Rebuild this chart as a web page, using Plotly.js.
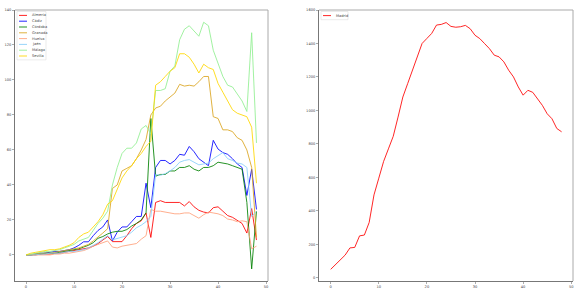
<!DOCTYPE html>
<html>
<head>
<meta charset="utf-8">
<script src="https://cdn.plot.ly/plotly-3.0.1.min.js"></script>
<style>html,body{margin:0;padding:0;background:#fff;}#chart{width:581px;height:293px;}</style>
</head>
<body>
<div id="chart"></div>
<script>
// Day index (x)
const days = Array.from({length: 49}, (_, i) => i);

const provinces = ["Almería", "Cádiz", "Córdoba", "Granada", "Huelva", "Jaén", "Málaga", "Sevilla"];
const colors = ["red", "blue", "green", "goldenrod", "lightsalmon", "lightskyblue", "lightgreen", "gold"];

const almeria = [0,0,0,0.5,0.5,0.5,1,1,1.5,2,2.5,3,3.5,4,5,6.5,8.5,10.5,7.6,7.6,7.6,11,15,18,19.5,24,10,30,31,30,30,30,30,28,30.5,27.5,25.5,24.5,24,27,27.5,25,22.5,21.5,19.5,18,12.5,26.5,8.5];
const cadiz = [0,0,0.5,1,1,1.5,2,2,2.3,3,4,5.5,7.5,7.5,11,14,16,20,8,13,16,16,19,22,22,41,27,50,54,54,52,54,57.5,57,62,59,55,53,51,65.5,60.5,58.5,57.5,55,52,50,34,49,26];
const cordoba = [0,0,0.5,0.5,1,1,1,1.5,2,2.5,3,3.5,4.5,5.5,7,9.5,10.5,12,13,13.5,13.5,14.5,16.5,18,20,24,78,45,46,46,48,48,50,50,51,49,48,50,50,51,53,52.5,52,51,50,49,30,-8,25];
const granada = [0,0,0.5,1,1,1,1.5,2,2.5,3,3.5,4,5,6,8,10,12.5,15,38,40,48,49.5,51,55,60,66,80,84,85,88,90.5,92.5,97.5,96.5,97,96.5,99,102,102,79,78,71.5,71.5,70.5,67,65.5,60,50,10];
const huelva = [0,0,0,0,0,0,0.5,0.5,1,1,1.5,2,2.5,3.5,5,6,7,8,4.5,4,5,5.5,6,6.5,9,11,26,25,25,24.5,24,23.5,23.5,24,24,22.5,21,23,24.5,24,23.5,22.5,20.5,20,19,19.5,19,3.5,5];
const jaen = [0,0,0,0.5,0.5,1,1,1,1.5,2,2,2.5,3,4,5.5,7,9,11,8.6,9.5,10.5,11,13,15.5,17,19,22,46,45.5,46.5,48,50,53,54,54.5,53,51.5,52,52.5,55,57,58.5,55,54,52.5,52,50,22,25];
const malaga = [0,0.5,1,1.5,2,2,2.5,3,4,5,6,8,9,10,14,18,21,25,40,50,58,61,61,64,72,74,69,94,94,95,105,108,123,129,131,128,125,133,131,117,110,102,97,96,92,88,82,127,64];
const sevilla = [0,1,1.5,2,2.5,3,3,3.5,4.5,5.5,7,10,12,13,16,19,23,29,31,38,44,48,51,55,58,62,65,97,99,102,105,107,115,115,113,109,104,109,107,106,98,93,88,83,81,80,79,73,41];

const madrid = [50,78,108,135,178,181,250,255,330,495,595,695,770,845,960,1080,1160,1240,1330,1400,1430,1460,1510,1514,1525,1502,1497,1500,1508,1488,1449,1429,1399,1369,1330,1320,1290,1240,1200,1140,1091,1120,1108,1070,1030,980,950,892,872];

const seriesLeft = [almeria, cadiz, cordoba, granada, huelva, jaen, malaga, sevilla];

const traces = seriesLeft.map((ys, k) => ({
  x: days, y: ys, type: 'scatter', mode: 'lines', name: provinces[k],
  line: {color: colors[k], width: 1}, opacity: 0.85,
  xaxis: 'x', yaxis: 'y', showlegend: false
}));
traces.push({
  x: days, y: madrid, type: 'scatter', mode: 'lines', name: 'Madrid',
  line: {color: 'red', width: 1}, opacity: 0.85,
  xaxis: 'x2', yaxis: 'y2', showlegend: false
});

const W = 581, H = 293;
const px = v => v / W, py = v => 1 - v / H;

const tickFont = {family: 'DejaVu Sans', size: 3.6, color: '#444'};
const axCommon = {
  showgrid: false, zeroline: false, showline: true, linecolor: '#777', linewidth: 1,
  ticks: 'outside', ticklen: 2, tickwidth: 0.6, tickcolor: '#777', tickfont: tickFont
};

const shapes = [];
const annotations = [];
// top/right spines
[[15, 268], [319, 573]].forEach(([l, r]) => {
  shapes.push({type: 'line', xref: 'paper', yref: 'paper', x0: px(l), x1: px(r), y0: py(10), y1: py(10), line: {color: '#aaa', width: 1}});
  shapes.push({type: 'line', xref: 'paper', yref: 'paper', x0: px(r), x1: px(r), y0: py(10), y1: py(281), line: {color: '#aaa', width: 1}});
});

// manual legends
function legend(names, cols, left, top, width, rowH) {
  shapes.push({type: 'rect', xref: 'paper', yref: 'paper', x0: px(left), x1: px(left + width),
    y0: py(top), y1: py(top + 2 + rowH * names.length), line: {color: '#ddd', width: 0.6}, fillcolor: 'rgba(255,255,255,0.8)'});
  names.forEach((n, k) => {
    const yc = top + 1 + rowH * (k + 0.5);
    shapes.push({type: 'line', xref: 'paper', yref: 'paper', x0: px(left + 2), x1: px(left + 10), y0: py(yc), y1: py(yc),
      line: {color: cols[k], width: 1}, opacity: 0.85});
    annotations.push({xref: 'paper', yref: 'paper', x: px(left + 12.5), y: py(yc), xanchor: 'left', yanchor: 'middle',
      text: n, showarrow: false, font: {family: 'DejaVu Sans', size: 3.6, color: '#444'}});
  });
}
legend(provinces, colors, 17, 11.5, 29, 5.8);
legend(['Madrid'], ['red'], 321, 11.5, 27, 6.2);

const layout = {
  width: W, height: H, margin: {l: 0, r: 0, t: 0, b: 0},
  paper_bgcolor: '#fff', plot_bgcolor: '#fff', showlegend: false,
  xaxis: Object.assign({}, axCommon, {domain: [px(15), px(268)], range: [-2.29, 50.4], tickvals: [0,10,20,30,40,50], anchor: 'y'}),
  yaxis: Object.assign({}, axCommon, {domain: [py(281), py(10)], range: [-14.9, 140], tickvals: [0,20,40,60,80,100,120,140], anchor: 'x'}),
  xaxis2: Object.assign({}, axCommon, {domain: [px(319), px(573)], range: [-2.43, 50.37], tickvals: [0,10,20,30,40,50], anchor: 'y2'}),
  yaxis2: Object.assign({}, axCommon, {domain: [py(281), py(10)], range: [-19.7, 1600], tickvals: [0,200,400,600,800,1000,1200,1400,1600], anchor: 'x2'}),
  shapes: shapes, annotations: annotations
};

Plotly.newPlot('chart', traces, layout, {staticPlot: true, displayModeBar: false});
</script>
</body>
</html>
